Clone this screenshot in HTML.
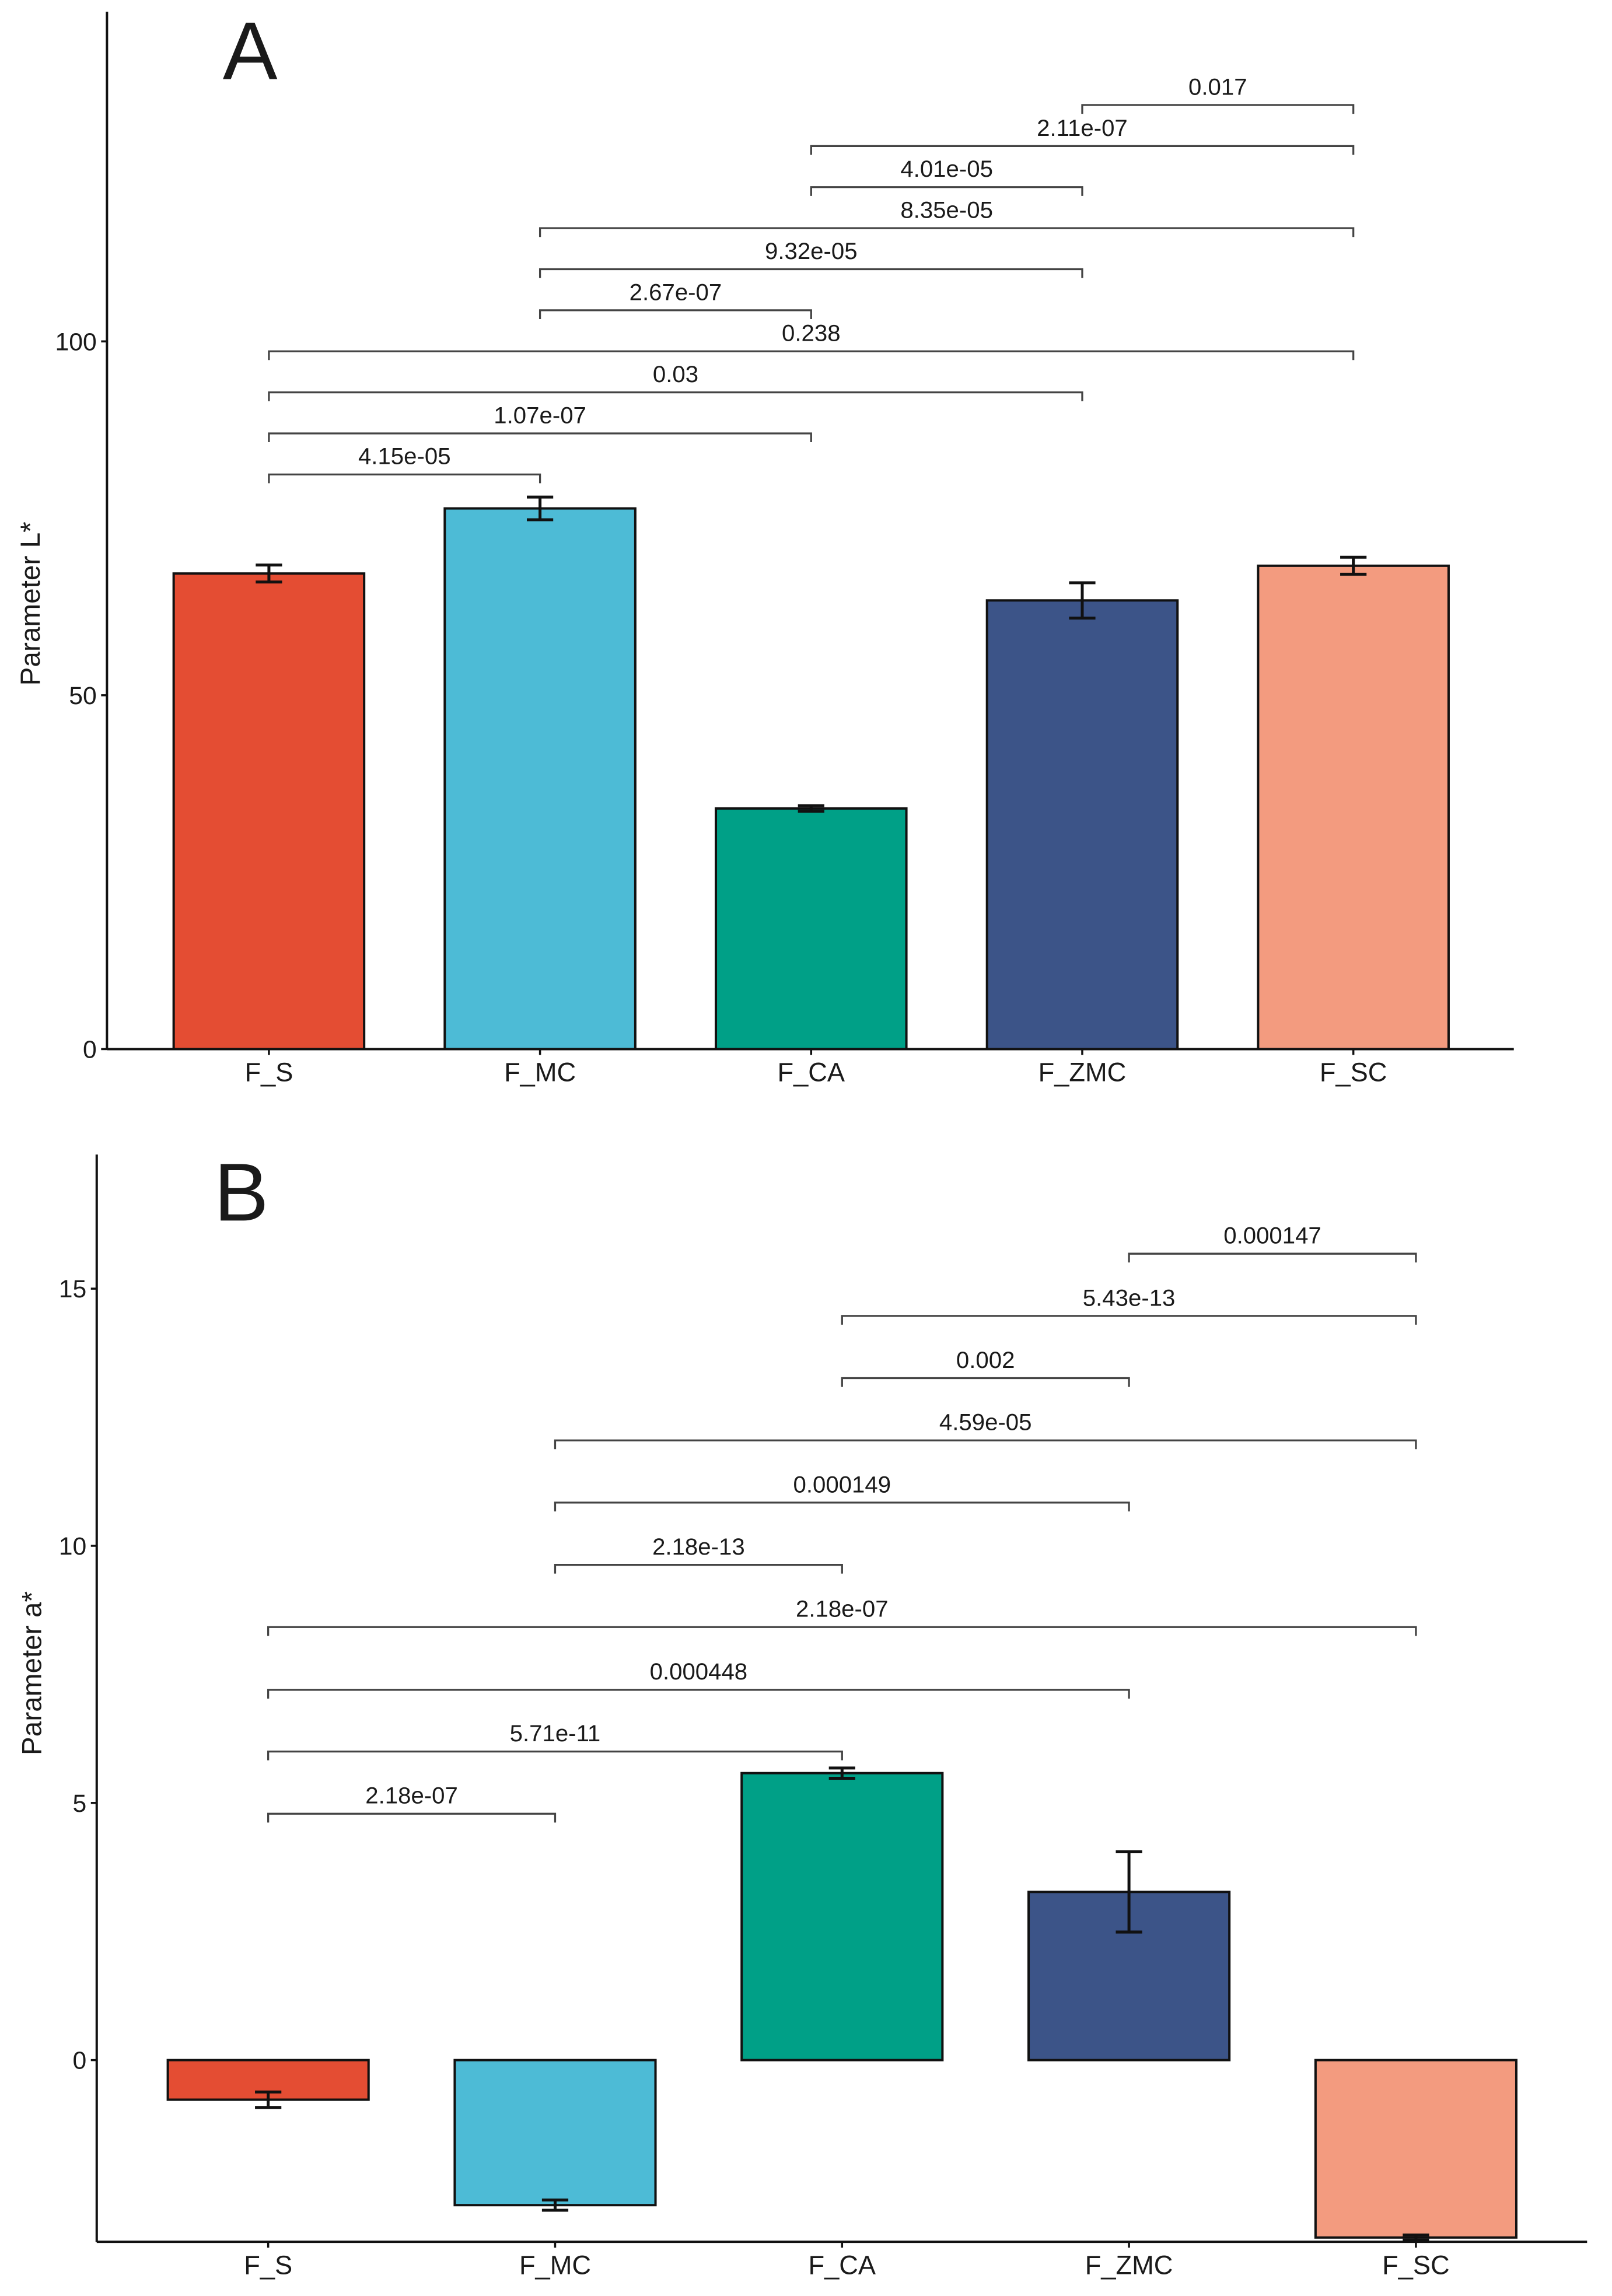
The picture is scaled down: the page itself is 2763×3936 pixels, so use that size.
<!DOCTYPE html>
<html><head><meta charset="utf-8"><style>
html,body{margin:0;padding:0;background:#fff;}
svg{display:block;}
text{font-family:"Liberation Sans Narrow","Liberation Sans",sans-serif;fill:#1a1a1a;}
</style></head><body>
<svg id="chart" width="2763" height="3936" viewBox="0 0 1100 1567" preserveAspectRatio="none" xmlns="http://www.w3.org/2000/svg">
<g id="pa"></g>
<g id="pb"></g>
</svg>
<script>
const categories = ["F_S","F_MC","F_CA","F_ZMC","F_SC"];
const colors = ["#E44D33","#4DBBD6","#00A087","#3C5488","#F39B7F"];
const valuesA = [67.2, 76.4, 34.0, 63.4, 68.3];
const errorsA = [1.2, 1.6, 0.4, 2.5, 1.2];
const ticksA = [0, 50, 100];
const bracketFromA = [0,0,0,0,1,1,1,2,2,3];
const bracketToA   = [1,2,3,4,2,3,4,3,4,4];
const bracketLabelsA = ["4.15e-05","1.07e-07","0.03","0.238","2.67e-07","9.32e-05","8.35e-05","4.01e-05","2.11e-07","0.017"];
const bracketYA = [81.2,87.0,92.8,98.6,104.4,110.2,116.0,121.8,127.6,133.4];

const valuesB = [-0.77, -2.82, 5.58, 3.27, -3.45];
const errorsB = [0.15, 0.1, 0.1, 0.78, 0.05];
const ticksB = [0, 5, 10, 15];
const bracketFromB = [0,0,0,0,1,1,1,2,2,3];
const bracketToB   = [1,2,3,4,2,3,4,3,4,4];
const bracketLabelsB = ["2.18e-07","5.71e-11","0.000448","2.18e-07","2.18e-13","0.000149","4.59e-05","0.002","5.43e-13","0.000147"];
const bracketYB = [4.79,6.0,7.2,8.42,9.63,10.84,12.05,13.26,14.47,15.68];

const NS="http://www.w3.org/2000/svg";
function mk(parent, tag, attrs){const e=document.createElementNS(NS,tag);for(const k in attrs)e.setAttribute(k,attrs[k]);parent.appendChild(e);return e;}

function drawPanel(g, cfg){
  const y = v => cfg.y0 - (v - 0) * cfg.ppu;
  const x = i => cfg.x0c + i * cfg.step;
  // bars
  cfg.values.forEach((v,i)=>{
    const top=Math.min(y(0),y(v)), h=Math.abs(y(v)-y(0));
    const r=mk(g,'rect',{x:x(i)-cfg.bw/2,y:top,width:cfg.bw,height:h,fill:colors[i],stroke:'#111','stroke-width':1.6});
    
    
    const e=cfg.errors[i], hi=y(v+e), lo=y(v-e);
    const eb=mk(g,'path',{d:`M${x(i)},${hi}V${lo}M${x(i)-9},${hi}H${x(i)+9}M${x(i)-9},${lo}H${x(i)+9}`,stroke:'#111','stroke-width':2,fill:'none'});
    
    
  });
  // axes
  const ya=mk(g,'line',{x1:cfg.ax,y1:cfg.axTop,x2:cfg.ax,y2:cfg.axBottom,stroke:'#111','stroke-width':1.6});
  
  
  const xa=mk(g,'line',{x1:cfg.ax,y1:cfg.axBottom,x2:cfg.axRight,y2:cfg.axBottom,stroke:'#111','stroke-width':1.6});
  
  
  cfg.ticks.forEach(t=>{
    mk(g,'line',{x1:cfg.ax-4,y1:y(t),x2:cfg.ax,y2:y(t),stroke:'#111','stroke-width':1.4});
    const tt=mk(g,'text',{x:cfg.ax-7,y:y(t)+6,'text-anchor':'end','font-size':17});
    tt.textContent=t;
    
    
  });
  categories.forEach((c,i)=>{
    mk(g,'line',{x1:x(i),y1:cfg.axBottom,x2:x(i),y2:cfg.axBottom+4,stroke:'#111','stroke-width':1.4});
    const tt=mk(g,'text',{x:x(i),y:cfg.axBottom+22,'text-anchor':'middle','font-size':18});
    tt.textContent=c;
    
    
  });
  // brackets
  cfg.bFrom.forEach((f,k)=>{
    const t=cfg.bTo[k], yy=y(cfg.bY[k]);
    const p=mk(g,'path',{d:`M${x(f)},${yy+6}V${yy}H${x(t)}V${yy+6}`,stroke:'#444','stroke-width':1.3,fill:'none'});
    
    
    const tt=mk(g,'text',{x:(x(f)+x(t))/2,y:yy-7,'text-anchor':'middle','font-size':16});
    tt.textContent=cfg.bLabels[k];
    
    
  });
  const yt=mk(g,'text',{x:0,y:0,'text-anchor':'middle','font-size':19,transform:`translate(${cfg.titleX},${cfg.titleY}) rotate(-90)`,style:'font-family:"Liberation Sans",sans-serif'});
  yt.textContent=cfg.title;
  
  
  const pl=mk(g,'text',{x:cfg.letterX,y:cfg.letterY,'font-size':56,style:'font-family:"Liberation Sans",sans-serif'});
  pl.textContent=cfg.letter;
  
  
}

drawPanel(document.getElementById('pa'),{
  y0:716, ppu:4.83, x0c:183.5, step:185, bw:130,
  ax:73, axTop:8, axBottom:716, axRight:1033,
  values:valuesA, errors:errorsA, ticks:ticksA,
  bFrom:bracketFromA, bTo:bracketToA, bLabels:bracketLabelsA, bY:bracketYA,
  title:"Parameter L*", titleX:27, titleY:412, letter:"A", letterX:152, letterY:54
});
drawPanel(document.getElementById('pb'),{
  y0:1406, ppu:35.1, x0c:183, step:195.8, bw:137,
  ax:66, axTop:788, axBottom:1530, axRight:1083,
  values:valuesB, errors:errorsB, ticks:ticksB,
  bFrom:bracketFromB, bTo:bracketToB, bLabels:bracketLabelsB, bY:bracketYB,
  title:"Parameter a*", titleX:28, titleY:1142, letter:"B", letterX:146, letterY:833
});
</script>
</body></html>
